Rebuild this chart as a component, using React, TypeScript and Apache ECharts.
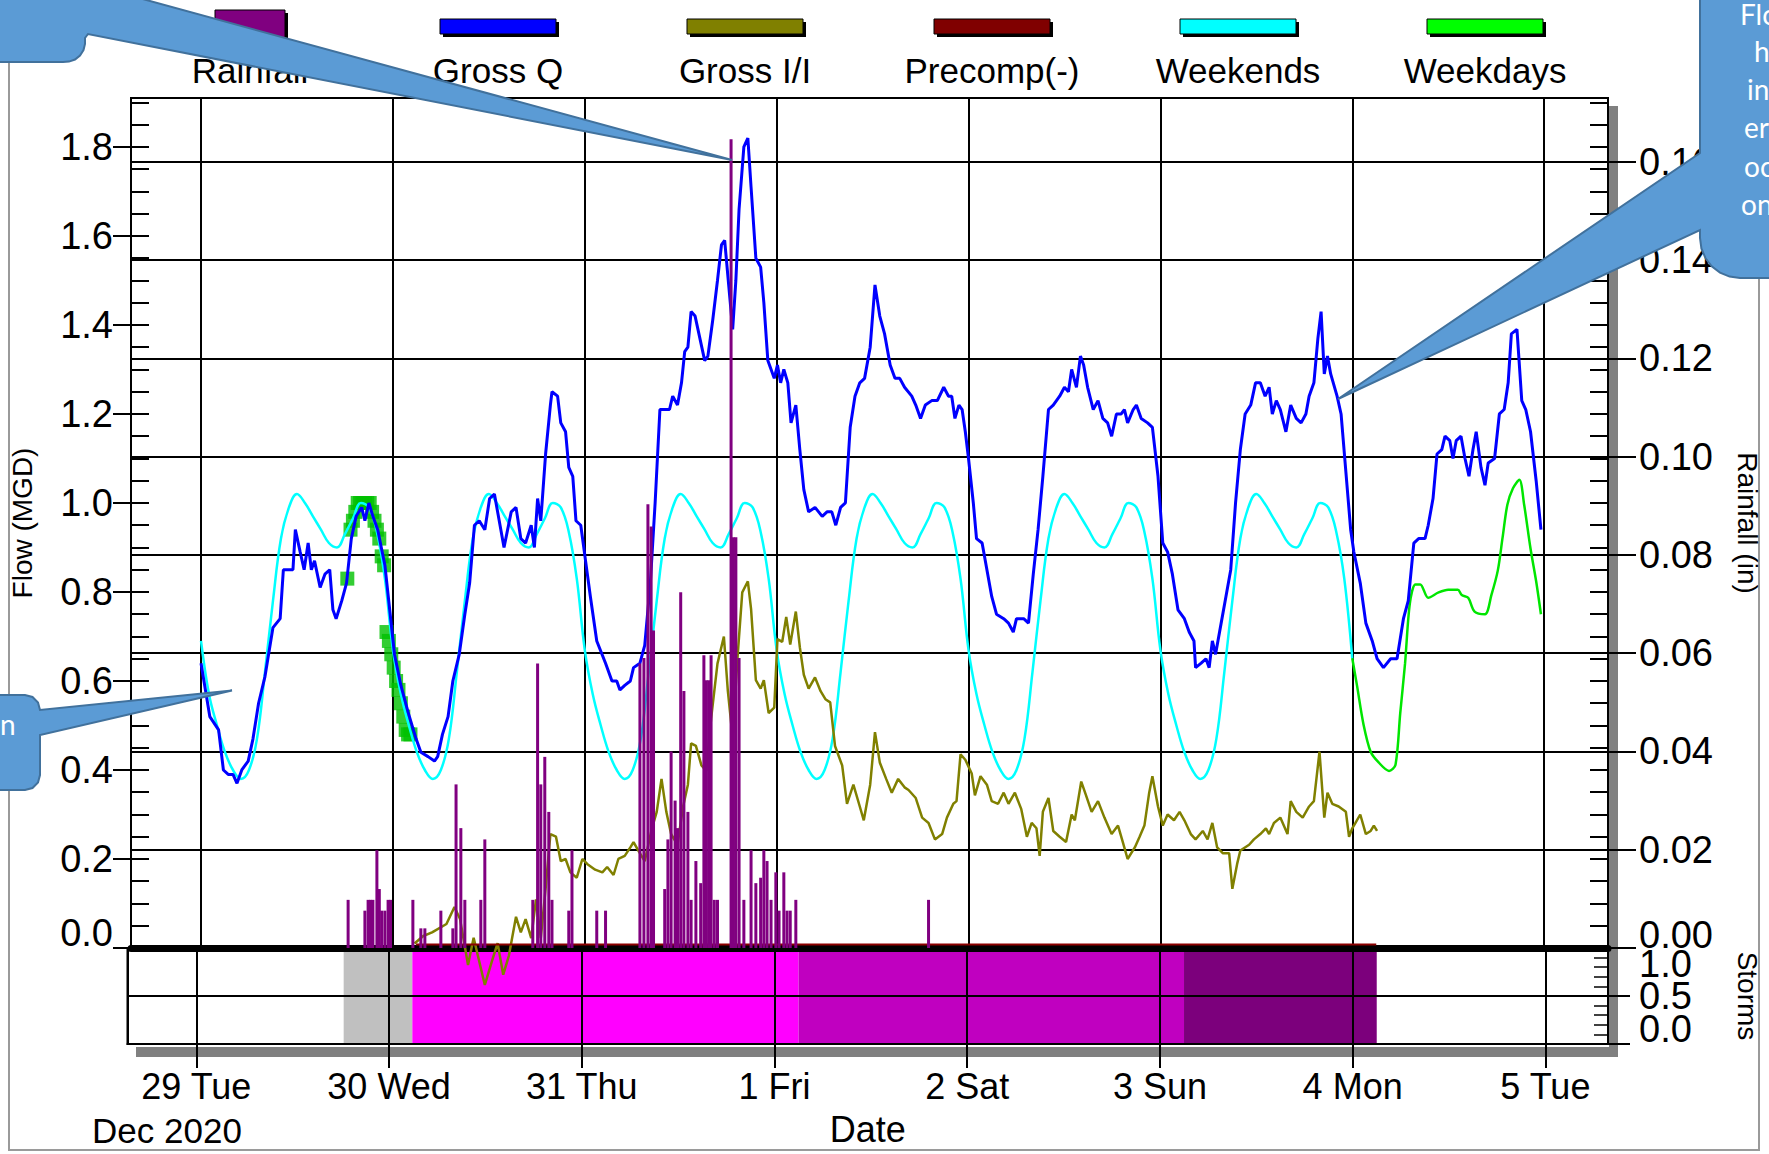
import React, { useEffect, useRef } from 'react';
import * as echarts from 'echarts';

// ---------- DATA (hours since 29 Dec 2020 00:00) ----------
const grossQ: [number, number][] = [
  [0,0.64],[1.1,0.52],[2.2,0.49],[2.8,0.40],[3.4,0.39],[4.0,0.39],[4.5,0.37],[5.1,0.40],[5.9,0.42],[6.5,0.47],[7.2,0.55],[8.0,0.61],[9.0,0.72],[9.9,0.74],[10.3,0.85],[10.9,0.85],[11.5,0.85],[11.8,0.94],[12.4,0.89],[12.9,0.85],[13.4,0.91],[13.8,0.85],[14.2,0.87],[14.9,0.81],[15.5,0.84],[16.1,0.85],[16.5,0.76],[16.9,0.74],[17.6,0.78],[18.2,0.82],[18.8,0.92],[19.4,0.97],[20.1,0.99],[20.5,0.96],[21.0,1.00],[21.5,0.97],[22.1,0.94],[23.0,0.86],[23.6,0.76],[24.2,0.66],[25.0,0.59],[25.9,0.53],[26.9,0.47],[27.5,0.44],[28.4,0.43],[29.2,0.42],[29.6,0.43],[30.2,0.48],[30.9,0.52],[31.5,0.60],[32.3,0.66],[33.0,0.75],[33.6,0.82],[34.2,0.95],[34.8,0.96],[35.5,0.94],[36.1,1.01],[36.7,1.02],[37.3,0.96],[37.9,0.90],[38.8,0.98],[39.4,0.99],[40.0,0.92],[40.6,0.91],[41.3,0.95],[41.7,0.90],[42.1,1.01],[42.5,0.96],[43.1,1.11],[43.7,1.22],[43.9,1.25],[44.6,1.24],[45.0,1.18],[45.6,1.16],[46.0,1.08],[46.5,1.06],[46.9,0.96],[47.5,0.95],[48.1,0.87],[48.7,0.79],[49.5,0.69],[50.6,0.64],[51.4,0.60],[52.0,0.60],[52.4,0.58],[53.0,0.59],[53.7,0.60],[54.1,0.63],[54.9,0.64],[55.5,0.68],[56.2,0.82],[56.8,1.00],[57.4,1.21],[58.0,1.21],[58.6,1.21],[59.0,1.24],[59.6,1.22],[60.1,1.27],[60.5,1.34],[60.9,1.35],[61.3,1.43],[61.8,1.42],[62.4,1.37],[63.0,1.32],[63.4,1.33],[64.0,1.41],[64.6,1.50],[65.1,1.58],[65.5,1.59],[66.0,1.49],[66.5,1.39],[66.9,1.50],[67.3,1.66],[67.9,1.80],[68.4,1.82],[68.8,1.71],[69.4,1.55],[70.0,1.53],[70.4,1.45],[70.9,1.32],[71.7,1.28],[72.1,1.31],[72.5,1.27],[72.9,1.30],[73.4,1.27],[73.8,1.18],[74.4,1.22],[74.9,1.12],[75.4,1.03],[76.0,0.98],[76.8,0.99],[77.7,0.97],[78.3,0.98],[78.9,0.98],[79.4,0.95],[80.0,0.99],[80.6,1.00],[81.2,1.17],[81.8,1.24],[82.4,1.27],[83.0,1.28],[83.7,1.35],[84.3,1.49],[84.9,1.42],[85.5,1.38],[86.2,1.31],[86.8,1.28],[87.4,1.28],[88.0,1.26],[88.9,1.24],[89.4,1.22],[90.0,1.19],[90.6,1.22],[91.4,1.23],[92.1,1.23],[92.9,1.26],[93.5,1.24],[93.9,1.24],[94.3,1.19],[94.8,1.22],[95.2,1.21],[95.6,1.16],[96.0,1.10],[96.6,1.00],[97.0,0.92],[97.7,0.91],[98.3,0.85],[98.9,0.79],[99.5,0.75],[100.4,0.74],[101.0,0.73],[101.6,0.71],[102.0,0.74],[102.9,0.74],[103.5,0.73],[104.1,0.84],[104.7,0.94],[105.3,1.06],[106.0,1.21],[106.6,1.22],[107.4,1.24],[108.0,1.26],[108.5,1.25],[108.9,1.30],[109.5,1.26],[110.0,1.33],[110.4,1.31],[110.9,1.26],[111.6,1.21],[112.2,1.23],[112.8,1.19],[113.4,1.18],[113.9,1.15],[114.5,1.20],[115.1,1.20],[115.5,1.21],[115.9,1.18],[116.6,1.21],[117.0,1.22],[117.6,1.19],[118.4,1.18],[119.0,1.17],[119.7,1.06],[120.3,0.91],[120.9,0.89],[121.5,0.84],[122.2,0.76],[123.0,0.74],[123.6,0.71],[124.2,0.69],[124.4,0.63],[125.1,0.64],[125.7,0.65],[126.1,0.63],[126.5,0.69],[126.9,0.66],[127.6,0.73],[128.2,0.79],[128.8,0.85],[129.4,1.00],[130.0,1.12],[130.6,1.20],[131.3,1.22],[131.9,1.27],[132.5,1.27],[133.1,1.24],[133.6,1.26],[134.0,1.20],[134.5,1.23],[135.0,1.21],[135.7,1.16],[136.3,1.22],[137.0,1.19],[137.6,1.18],[138.2,1.20],[138.6,1.24],[139.2,1.27],[139.7,1.37],[140.1,1.43],[140.5,1.29],[140.9,1.33],[141.3,1.29],[142.1,1.24],[142.6,1.20],[143.2,1.07],[143.8,0.94],[144.2,0.89],[145.0,0.82],[145.7,0.73],[146.5,0.69],[147.1,0.65],[147.9,0.63],[148.8,0.65],[149.6,0.65],[150.4,0.74],[151.0,0.78],[151.7,0.91],[152.3,0.92],[153.1,0.92],[153.5,0.95],[154.1,1.01],[154.6,1.11],[155.2,1.12],[155.6,1.15],[156.2,1.14],[156.6,1.10],[157.0,1.14],[157.6,1.15],[158.1,1.10],[158.6,1.06],[159.1,1.12],[159.5,1.16],[160.1,1.08],[160.6,1.04],[161.0,1.09],[161.8,1.10],[162.4,1.20],[163.0,1.21],[163.5,1.27],[163.9,1.38],[164.6,1.39],[165.2,1.23],[165.7,1.21],[166.3,1.16],[167.0,1.05],[167.6,0.94]
];

const grossII: [number, number][] = [
  [26.7,0.01],[27.8,0.027],[28.9,0.035],[30.7,0.054],[31.7,0.092],[32.4,0.065],[33.4,-0.038],[34.1,0.023],[35.5,-0.083],[36.4,-0.029],[37.1,0.011],[37.8,-0.06],[38.5,-0.018],[39.4,0.07],[40.0,0.035],[40.6,0.065],[41.3,0.022],[41.9,0.109],[42.5,0.022],[43.1,0.133],[43.7,0.256],[44.4,0.25],[45.0,0.195],[45.6,0.20],[46.2,0.17],[47.0,0.158],[47.7,0.20],[48.3,0.189],[49.3,0.176],[50.2,0.17],[50.8,0.182],[51.6,0.164],[52.2,0.20],[53.0,0.207],[53.7,0.226],[54.1,0.238],[54.7,0.219],[55.5,0.195],[56.4,0.269],[57.0,0.306],[57.6,0.38],[58.2,0.306],[58.8,0.256],[59.6,0.232],[60.3,0.318],[60.9,0.367],[61.3,0.46],[61.9,0.454],[62.6,0.41],[63.2,0.398],[63.8,0.515],[64.6,0.639],[65.4,0.70],[65.9,0.577],[66.5,0.472],[67.1,0.651],[67.7,0.799],[68.4,0.824],[68.8,0.762],[69.4,0.602],[70.0,0.583],[70.4,0.602],[71.0,0.528],[71.7,0.54],[72.1,0.694],[72.7,0.688],[73.2,0.744],[73.7,0.682],[74.4,0.756],[74.9,0.676],[75.4,0.614],[76.0,0.583],[76.8,0.608],[77.5,0.577],[78.1,0.559],[78.7,0.552],[79.3,0.454],[80.2,0.41],[80.8,0.324],[81.6,0.367],[82.4,0.318],[82.9,0.287],[83.7,0.367],[84.3,0.485],[84.9,0.417],[85.7,0.38],[86.4,0.349],[87.2,0.38],[88.0,0.361],[88.5,0.355],[89.4,0.337],[90.2,0.293],[91.0,0.281],[91.8,0.244],[92.7,0.256],[93.3,0.293],[94.1,0.324],[94.5,0.33],[95.0,0.435],[95.6,0.423],[96.4,0.392],[96.8,0.343],[97.5,0.386],[98.3,0.367],[98.9,0.33],[99.7,0.324],[100.4,0.349],[101.0,0.324],[101.8,0.349],[102.6,0.312],[103.3,0.25],[103.9,0.281],[104.5,0.269],[104.9,0.207],[105.3,0.306],[106.0,0.337],[106.6,0.263],[107.4,0.25],[108.2,0.238],[108.9,0.30],[109.3,0.287],[110.1,0.374],[110.7,0.343],[111.4,0.306],[112.2,0.33],[113.0,0.293],[113.9,0.256],[114.7,0.275],[115.3,0.238],[115.9,0.20],[116.8,0.226],[117.4,0.25],[118.0,0.275],[118.6,0.349],[119.0,0.386],[119.7,0.318],[120.3,0.275],[120.9,0.30],[121.7,0.287],[122.4,0.306],[123.0,0.287],[123.8,0.256],[124.4,0.244],[125.3,0.263],[125.9,0.244],[126.5,0.281],[127.1,0.226],[127.8,0.213],[128.6,0.213],[129.0,0.133],[129.6,0.189],[130.0,0.219],[131.1,0.232],[131.7,0.244],[132.5,0.256],[133.2,0.269],[133.6,0.256],[134.2,0.281],[135.0,0.293],[135.9,0.256],[136.3,0.33],[137.0,0.306],[137.8,0.293],[138.6,0.318],[139.2,0.33],[139.9,0.441],[140.5,0.293],[140.9,0.349],[141.5,0.324],[142.3,0.318],[143.2,0.306],[143.6,0.25],[144.0,0.269],[144.4,0.281],[145.0,0.30],[145.7,0.256],[146.3,0.263],[146.7,0.275],[147.1,0.263]
];

// Weekends typical flow, hourly from hour 0 (29 Dec 00:00) to hour 144 (4 Jan 00:00)
const weekendsFlow: number[] = [
  0.69,0.57,0.50,0.44,0.40,0.38,0.40,0.47,0.62,0.78,0.92,0.99,1.02,1.00,0.97,0.94,0.91,0.90,0.93,0.965,1.00,0.99,0.935,0.83,
  0.67,0.57,0.50,0.44,0.40,0.38,0.40,0.47,0.62,0.78,0.92,0.99,1.02,1.00,0.97,0.94,0.91,0.90,0.93,0.965,1.00,0.99,0.935,0.83,
  0.67,0.57,0.50,0.44,0.40,0.38,0.40,0.47,0.62,0.78,0.92,0.99,1.02,1.00,0.97,0.94,0.91,0.90,0.93,0.965,1.00,0.99,0.935,0.83,
  0.67,0.57,0.50,0.44,0.40,0.38,0.40,0.47,0.62,0.78,0.92,0.99,1.02,1.00,0.97,0.94,0.91,0.90,0.93,0.965,1.00,0.99,0.935,0.83,
  0.67,0.57,0.50,0.44,0.40,0.38,0.40,0.47,0.62,0.78,0.92,0.99,1.02,1.00,0.97,0.94,0.91,0.90,0.93,0.965,1.00,0.99,0.935,0.83,
  0.67,0.57,0.50,0.44,0.40,0.38,0.40,0.47,0.62,0.78,0.92,0.99,1.02,1.00,0.97,0.94,0.91,0.90,0.93,0.965,1.00,0.99,0.935,0.83,
  0.65
];

const weekdaysLine: [number, number][] = [
  [144,0.651],[144.6,0.589],[145.4,0.503],[146.3,0.441],[147.3,0.417],[148.6,0.398],[149.4,0.411],[150.0,0.528],[150.6,0.639],[151.2,0.774],[151.9,0.817],[152.5,0.817],[153.5,0.787],[154.8,0.799],[156.0,0.805],[157.2,0.805],[157.7,0.793],[158.5,0.787],[159.3,0.756],[160.6,0.750],[161.4,0.793],[162.2,0.848],[162.8,0.922],[163.4,0.996],[164.1,1.033],[164.9,1.052],[165.5,0.996],[166.3,0.897],[167.0,0.824],[167.6,0.750]
];

const weekdaysPts: [number, number][] = [
  [18.3,0.83],[18.7,0.94],[19.0,0.96],[19.3,0.98],[19.6,1.00],[19.9,1.00],[20.2,1.00],[20.5,1.00],[20.8,1.00],[21.1,1.00],[21.4,0.98],[21.7,0.96],[22.0,0.94],[22.3,0.92],[22.6,0.88],[22.9,0.86],[23.2,0.71],[23.5,0.69],[23.8,0.66],[24.1,0.63],[24.4,0.60],[24.7,0.58],[25.0,0.55],[25.3,0.52],[25.6,0.49],[25.9,0.48],[26.2,0.48]
];

const rainfall: [number, number][] = [
  [18.4,0.0098],[20.5,0.0076],[20.9,0.0098],[21.2,0.0098],[21.5,0.0098],[22.0,0.0199],[22.3,0.012],[22.6,0.0076],[23.0,0.0076],[23.4,0.0098],[23.7,0.0098],[26.5,0.0098],[27.5,0.004],[28.0,0.004],[30.0,0.0076],[31.5,0.004],[31.9,0.0333],[32.5,0.0244],[33.0,0.0098],[35.0,0.0098],[35.5,0.0221],[41.5,0.0098],[42.1,0.0579],[42.5,0.0333],[43.0,0.0389],[43.5,0.0277],[43.9,0.0098],[46.0,0.0076],[46.4,0.0199],[49.5,0.0076],[50.6,0.0076],[54.9,0.0579],[55.4,0.059],[55.9,0.0903],[56.3,0.0858],[56.6,0.0646],[58.0,0.012],[58.4,0.0221],[58.8,0.04],[59.3,0.03],[59.6,0.0244],[60.0,0.0724],[60.4,0.0523],[60.9,0.0277],[61.3,0.0098],[61.9,0.0177],[62.5,0.0132],[62.9,0.0596],[63.2,0.0545],[63.5,0.0545],[63.8,0.0596],[64.2,0.0098],[64.6,0.0098],[66.3,0.1646],[66.6,0.0836],[66.9,0.0836],[67.3,0.059],[67.9,0.0098],[68.8,0.0199],[69.4,0.0132],[70.0,0.0143],[70.4,0.0199],[70.8,0.0177],[71.3,0.0098],[71.9,0.0154],[72.3,0.0076],[72.9,0.0154],[73.3,0.0076],[73.7,0.0076],[74.4,0.0098],[91.0,0.0098]
];

const precomp: [number, number][] = [[26.9, 0.008], [147.0, 0.008]];

// storms: [start hour, end hour, class]
const storms: [number, number, number][] = [[18.35, 26.9, 0], [26.9, 75.0, 1], [75.0, 123.0, 2], [123.0, 147.0, 3]];
const stormColors = ['#C0C0C0', '#FF00FF', '#C000C0', '#7C007C'];

const legendNames = ['Rainfall', 'Gross Q', 'Gross I/I', 'Precomp(-)', 'Weekends', 'Weekdays'];
const legendColors = ['#800080', '#0000FF', '#808000', '#800000', '#00FFFF', '#00FF00'];

const weekdayNames = ['Sun', 'Mon', 'Tue', 'Wed', 'Thu', 'Fri', 'Sat'];

// ---------- helpers ----------
const T0 = new Date(2020, 11, 29, 0, 0, 0).getTime();
const HOUR = 3600 * 1000;
const DAY = 24 * HOUR;
const toT = (h: number) => T0 + h * HOUR;
const X_MIN = toT(-8.57);
const X_MAX = toT(175.8);

const FONT = "'Liberation Sans', Arial, sans-serif";
const FS = 38;

export default function App() {
  const ref = useRef<HTMLDivElement>(null);
  useEffect(() => {
    document.body.style.margin = '0';
    document.body.style.overflow = 'hidden';
    const chart = echarts.init(ref.current!, undefined, { renderer: 'svg' });

    const labelStyle = { color: '#000', fontFamily: FONT, fontSize: FS, lineHeight: 30 };
    const dateStyle = { color: '#000', fontFamily: FONT, fontSize: 36 };

    const timeAxisBase = {
      type: 'time',
      min: X_MIN,
      max: X_MAX,
      minInterval: DAY,
      maxInterval: DAY,
      splitLine: { show: true, lineStyle: { color: '#000', width: 2 } },
    };

    // legend graphics
    const legendX = [250, 498, 745, 992, 1238, 1485];
    const legendEls: any[] = [];
    legendNames.forEach((name, i) => {
      const cx = legendX[i];
      if (i === 0) {
        legendEls.push({ type: 'rect', shape: { x: cx - 35 + 3, y: 10 + 3, width: 70, height: 29 }, style: { fill: '#000' } });
        legendEls.push({ type: 'rect', shape: { x: cx - 35, y: 10, width: 70, height: 29 }, style: { fill: legendColors[i], stroke: '#000', lineWidth: 1 } });
      } else {
        legendEls.push({ type: 'rect', shape: { x: cx - 58 + 3, y: 19 + 3, width: 116, height: 15 }, style: { fill: '#000' } });
        legendEls.push({ type: 'rect', shape: { x: cx - 58, y: 19, width: 116, height: 15 }, style: { fill: legendColors[i], stroke: '#000', lineWidth: 1 } });
      }
      legendEls.push({
        type: 'text', x: cx, y: 70,
        style: { text: name, fill: '#000', fontFamily: FONT, fontSize: 35, textAlign: 'center', textVerticalAlign: 'middle', align: 'center', verticalAlign: 'middle' },
      });
    });

    const calloutStyle = { fill: '#5B9BD5', stroke: '#41719C', lineWidth: 2 };
    const calloutFont = "'Lato', 'Open Sans', sans-serif";
    const cText = (t: string, x: number, y: number) => ({
      type: 'text', x, y, z: 101,
      style: { text: t, fill: '#fff', fontFamily: calloutFont, fontSize: 28, textVerticalAlign: 'middle', verticalAlign: 'middle' },
    });

    const option: any = {
      animation: false,
      backgroundColor: '#ffffff',
      grid: [
        { left: 127.5, top: 98, width: 1480.5, height: 850, show: true, borderColor: '#000', borderWidth: 2, backgroundColor: 'transparent' },
        { left: 127.5, top: 948, width: 1480.5, height: 96, show: true, borderColor: '#000', borderWidth: 2, backgroundColor: 'transparent' },
      ],
      xAxis: [
        {
          ...timeAxisBase, gridIndex: 0,
          axisLine: { show: true, onZero: false, lineStyle: { color: '#000', width: 7 } },
          axisTick: { show: false }, axisLabel: { show: false },
        },
        {
          ...timeAxisBase, gridIndex: 1,
          axisLine: { show: true, onZero: false, lineStyle: { color: '#000', width: 2 } },
          axisTick: { show: true, length: 24, lineStyle: { color: '#000', width: 2 } },
          axisLabel: {
            ...dateStyle, margin: 24, showMinLabel: false, showMaxLabel: false, hideOverlap: false,
            formatter: (val: number) => {
              const d = new Date(val);
              if (d.getHours() !== 0 || d.getMinutes() !== 0) return '';
              return d.getDate() + ' ' + weekdayNames[d.getDay()];
            },
          },
          name: 'Date', nameLocation: 'middle', nameGap: 67,
          nameTextStyle: { ...dateStyle },
        },
      ],
      yAxis: [
        {
          type: 'value', gridIndex: 0, position: 'left', min: 0, max: 1.91, interval: 0.2,
          axisLine: { show: true, lineStyle: { color: '#000', width: 2 } },
          axisTick: { show: true, length: 18, lineStyle: { color: '#000', width: 2 } },
          splitLine: { show: false },
          axisLabel: {
            ...labelStyle, margin: 18, showMaxLabel: false, hideOverlap: false,
            formatter: (v: number) => (Math.abs(v) < 1e-9 ? '{lo|0.0}' : v.toFixed(1)),
            rich: { lo: { ...labelStyle, padding: [0, 0, 30, 0] } },
          },
          name: 'Flow (MGD)', nameLocation: 'middle', nameGap: 95, nameRotate: 90,
          nameTextStyle: { color: '#000', fontFamily: FONT, fontSize: 28 },
        },
        {
          type: 'value', gridIndex: 0, position: 'left', min: 0, max: 1.91, interval: 0.05,
          axisLine: { show: false },
          axisTick: { show: true, inside: true, length: 18, lineStyle: { color: '#000', width: 2 } },
          axisLabel: { show: false }, splitLine: { show: false },
        },
        {
          type: 'value', gridIndex: 0, position: 'right', min: 0, max: 0.173, interval: 0.02,
          axisLine: { show: true, lineStyle: { color: '#000', width: 2 } },
          axisTick: { show: true, length: 28, lineStyle: { color: '#000', width: 2 } },
          splitLine: { show: true, lineStyle: { color: '#000', width: 2 } },
          axisLabel: {
            ...labelStyle, margin: 31, showMaxLabel: false, hideOverlap: false,
            formatter: (v: number) => (Math.abs(v) < 1e-9 ? '{lo|0.00}' : v.toFixed(2)),
            rich: { lo: { ...labelStyle, padding: [0, 0, 26, 0] } },
          },
          name: 'Rainfall (in)', nameLocation: 'middle', nameGap: 125, nameRotate: -90,
          nameTextStyle: { color: '#000', fontFamily: FONT, fontSize: 28 },
        },
        {
          type: 'value', gridIndex: 0, position: 'right', min: 0, max: 1.91, interval: 0.05,
          axisLine: { show: false },
          axisTick: { show: true, inside: true, length: 18, lineStyle: { color: '#000', width: 2 } },
          axisLabel: { show: false }, splitLine: { show: false },
        },
        {
          // storms axis: ticks, grid line at 0.5, labels for 1.0 and 0.0
          type: 'value', gridIndex: 1, position: 'right', min: 0, max: 1, interval: 0.5,
          axisLine: { show: true, lineStyle: { color: '#000', width: 2 } },
          axisTick: { show: true, length: 22, lineStyle: { color: '#000', width: 2 } },
          splitLine: { show: true, lineStyle: { color: '#000', width: 2 } },
          axisLabel: {
            ...labelStyle, margin: 31, showMinLabel: true, showMaxLabel: true, hideOverlap: false,
            formatter: (v: number) => (Math.abs(v) < 1e-9 ? '{lo|0.0}' : Math.abs(v - 1) < 1e-9 ? '{hi|1.0}' : ''),
            rich: {
              lo: { ...labelStyle, padding: [0, 0, 30, 0] },
              hi: { ...labelStyle, padding: [32, 0, 0, 0] },
            },
          },
          name: 'Storms', nameLocation: 'middle', nameGap: 125, nameRotate: -90,
          nameTextStyle: { color: '#000', fontFamily: FONT, fontSize: 28 },
        },
        {
          // storms minor ticks + the 0.5 label
          type: 'value', gridIndex: 1, position: 'right', min: 0, max: 1, interval: 0.1,
          axisLine: { show: false },
          axisTick: { show: true, inside: true, length: 14, lineStyle: { color: '#000', width: 1.5 } },
          axisLabel: {
            show: true, ...labelStyle, margin: 31, hideOverlap: false, showMinLabel: false, showMaxLabel: false,
            formatter: (v: number) => (Math.abs(v - 0.5) < 1e-9 ? '0.5' : ''),
          },
          splitLine: { show: false },
        },
      ],
      series: [
        {
          type: 'custom', name: 'Storms', xAxisIndex: 1, yAxisIndex: 4, z: -1,
          data: storms.map(([a, b, c]) => [toT(a), toT(b), c]),
          encode: { x: [0, 1] },
          renderItem: (params: any, api: any) => {
            const s = api.coord([api.value(0), 1]);
            const e = api.coord([api.value(1), 0]);
            return {
              type: 'rect',
              shape: { x: s[0], y: s[1], width: e[0] - s[0], height: e[1] - s[1] },
              style: { fill: stormColors[api.value(2)] },
            };
          },
        },
        {
          type: 'scatter', name: 'Weekdays pts', xAxisIndex: 0, yAxisIndex: 0, z: 1,
          symbol: 'rect', symbolSize: 14,
          itemStyle: { color: '#00C000' },
          data: weekdaysPts.map(([h, v]) => [toT(h), v]),
        },
        {
          type: 'line', name: 'Weekends', xAxisIndex: 0, yAxisIndex: 0, z: 2,
          showSymbol: false, smooth: 0.4,
          lineStyle: { color: '#00FFFF', width: 2.5 },
          data: weekendsFlow.map((v, i) => [toT(i), v]),
        },
        {
          type: 'line', name: 'Weekdays', xAxisIndex: 0, yAxisIndex: 0, z: 2,
          showSymbol: false, smooth: 0.3,
          lineStyle: { color: '#00E600', width: 2.5 },
          data: weekdaysLine.map(([h, v]) => [toT(h), v]),
        },
        {
          type: 'line', name: 'Gross Q', xAxisIndex: 0, yAxisIndex: 0, z: 3,
          showSymbol: false,
          lineStyle: { color: '#0000FF', width: 3 },
          data: grossQ.map(([h, v]) => [toT(h), v]),
        },
        {
          type: 'line', name: 'Gross I/I', xAxisIndex: 0, yAxisIndex: 0, z: 3, clip: false,
          showSymbol: false,
          lineStyle: { color: '#808000', width: 2.5 },
          data: grossII.map(([h, v]) => [toT(h), v]),
        },
        {
          type: 'line', name: 'Precomp(-)', xAxisIndex: 0, yAxisIndex: 0, z: 3,
          showSymbol: false,
          lineStyle: { color: '#8B0000', width: 2 },
          data: precomp.map(([h, v]) => [toT(h), v]),
        },
        {
          type: 'bar', name: 'Rainfall', xAxisIndex: 0, yAxisIndex: 2, z: 4,
          barWidth: 3, itemStyle: { color: '#800080' },
          data: rainfall.map(([h, v]) => [toT(h), v]),
        },
      ],
      graphic: [
        // outer frame
        { type: 'rect', shape: { x: 9, y: -10, width: 1750, height: 1160 }, style: { fill: 'none', stroke: '#9a9a9a', lineWidth: 2 }, z: 0 },
        // axis shadows
        { type: 'rect', shape: { x: 1609, y: 106, width: 9, height: 951 }, style: { fill: '#808080' }, z: 0 },
        { type: 'rect', shape: { x: 136, y: 1047, width: 1482, height: 10 }, style: { fill: '#808080' }, z: 0 },
        ...legendEls,
        { type: 'text', x: 167, y: 1130, style: { text: 'Dec 2020', fill: '#000', fontFamily: FONT, fontSize: 35, textAlign: 'center', textVerticalAlign: 'middle', align: 'center', verticalAlign: 'middle' } },
        // callouts
        {
          type: 'polygon', z: 100,
          shape: { points: [[-5, -5], [128, -5], [732, 160], [88, 34], [85, 38], [85, 44], [83.5, 50], [80, 55.5], [75, 59.5], [69, 61.6], [63, 62], [-5, 62]] },
          style: calloutStyle,
        },
        {
          type: 'polygon', z: 100,
          shape: { points: [[1775, -5], [1700, -5], [1700, 153], [1338, 399], [1700, 230], [1700, 238], [1701.4, 248.4], [1705.4, 258], [1711.7, 266.3], [1720, 272.6], [1729.6, 276.6], [1740, 278], [1775, 278]] },
          style: calloutStyle,
        },
        {
          type: 'polygon', z: 100,
          shape: { points: [[-5, 695], [25, 695], [32.5, 697], [38, 702.5], [40, 710], [232, 690.5], [40, 735], [40, 775], [38, 782.5], [32.5, 788], [25, 790], [-5, 790]] },
          style: calloutStyle,
        },
        cText('Flo', 1740, 14),
        cText('h', 1754, 51),
        cText('in', 1747, 89),
        cText('er', 1744, 127),
        cText('oc', 1744, 166),
        cText('on', 1741, 204),
        cText('n', 0, 724),
      ],
    };

    chart.setOption(option);
    return () => chart.dispose();
  }, []);

  return <div ref={ref} style={{ width: 1769, height: 1154 }} />;
}
